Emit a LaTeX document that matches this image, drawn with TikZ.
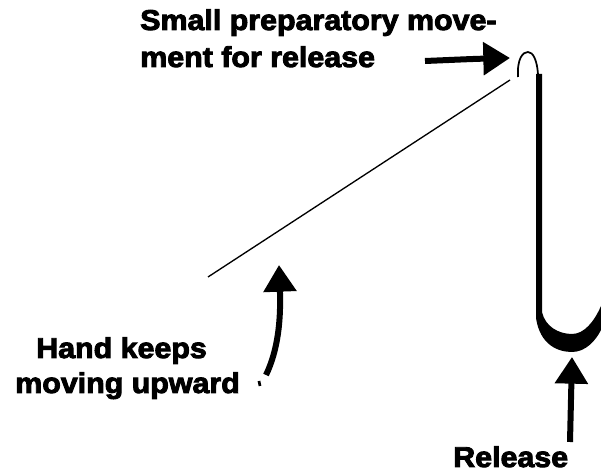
\documentclass[tikz,border=0pt]{standalone}
\usepackage{fontspec}
\newfontfamily\heavy{Liberation Sans}[BoldFeatures={FakeBold=3.2,FakeStretch=1.06}]
\usetikzlibrary{arrows.meta}
\tikzset{
  lbl/.style={inner sep=0pt, anchor=base west, font=\heavy\bfseries\fontsize{21.5}{26}\selectfont},
  bigarrow/.style={line width=4.5pt, -{Triangle[length=20pt,width=24pt]}},
  thinline/.style={line width=1pt}
}
\begin{document}
\begin{tikzpicture}[x=0.75pt,y=-0.75pt]
\useasboundingbox (0,0) rectangle (601,473);
% texts
\node[lbl] (t1) at (140,30) {Small preparatory move-};
\node[lbl] (t2) at (140,67) {ment for release};
\node[lbl] (t3) at (36,358) {Hand keeps};
\node[lbl] (t4) at (15,393) {moving upward};
\node[lbl] (t5) at (453,467) {Release};
% coordinates
\coordinate (a1s) at (425,61);
\coordinate (a1e) at (510,58);
\coordinate (dl) at (208,277);
\coordinate (dr) at (510,80);
\coordinate (h1) at (266,375);
\coordinate (h2) at (279,265);
\coordinate (r1) at (570,442);
\coordinate (r2) at (572,357);
% diagonal path
\draw[thinline] (dl) -- (dr);
% small arch
\draw[line width=1.3pt] (518,77) .. controls (517,58) and (523,52) .. (528,52) .. controls (533,52) and (537,60) .. (538,74);
% vertical stroke and U
\fill (536,74) -- (536,318) .. controls (540,345) and (558,352) .. (572,352) .. controls (586,352) and (596,340) .. (601,330) -- (601,306) .. controls (594,322) and (584,334) .. (572,334) .. controls (558,334) and (545,326) .. (542,312) -- (542,74) -- cycle;
% arrows
\draw[bigarrow] (a1s) .. controls (450,60) and (470,59) .. (a1e);
\draw[bigarrow] (h1) .. controls (278,350) and (281,320) .. (h2);
\draw[bigarrow] (r1) -- (r2);
\draw[line width=2pt] (259,381) -- (260,386);
\end{tikzpicture}
\end{document}
